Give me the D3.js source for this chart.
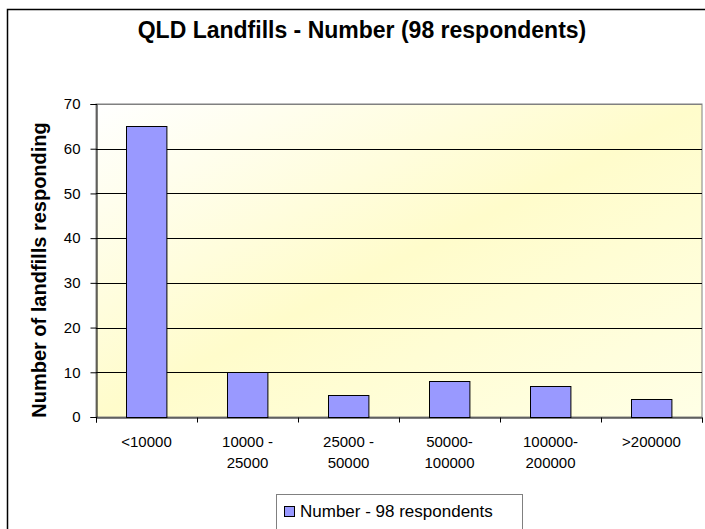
<!DOCTYPE html>
<html>
<head>
  <title>QLD Landfills - Number</title>
  <script src="https://cdn.jsdelivr.net/npm/d3@7"></script>
  <style>
    body { margin: 0; background: #fff; }
    text { font-family: Arial, "Liberation Sans", sans-serif; }
  </style>
</head>
<body>
  <div id="chart"></div>
  <script>
    const categories = [["<10000"], ["10000 -", "25000"], ["25000 -", "50000"], ["50000-", "100000"], ["100000-", "200000"], [">200000"]]
    const values = [65, 10, 5, 8, 7, 4]
    const yTicks = [0, 10, 20, 30, 40, 50, 60, 70]
    const seriesName = "Number - 98 respondents"

    const width = 705
    const height = 529
    const plot = { left: 96, right: 702, top: 104, bottom: 417 }

    const svg = d3.select("#chart")
      .append("svg")
      .attr("width", width)
      .attr("height", height)

    const defs = svg.append("defs")
    const grad = defs.append("linearGradient")
      .attr("id", "bg")
      .attr("x1", 0).attr("y1", 0)
      .attr("x2", 1).attr("y2", 1)
    grad.append("stop").attr("offset", 0).attr("stop-color", "#ffffff")
    grad.append("stop").attr("offset", 0.5).attr("stop-color", "#fffccb")
    grad.append("stop").attr("offset", 1).attr("stop-color", "#ffffe6")

    // outer chart frame (cropped on the right and bottom)
    svg.append("rect")
      .attr("x", 7.5).attr("y", 9.5)
      .attr("width", 720).attr("height", 540)
      .attr("fill", "#fff")
      .attr("stroke", "#000")
      .attr("stroke-width", 1.5)

    svg.append("text")
      .attr("x", 362)
      .attr("y", 38)
      .attr("text-anchor", "middle")
      .style("font-size", "23px")
      .style("font-weight", "bold")
      .text("QLD Landfills - Number (98 respondents)")

    const x = d3.scaleBand()
      .domain(d3.range(categories.length))
      .range([plot.left, plot.right])
      .paddingInner(0.6)
      .paddingOuter(0.3)

    const xEdge = d3.scaleLinear()
      .domain([0, categories.length])
      .range([plot.left, plot.right])

    const y = d3.scaleLinear()
      .domain([0, 70])
      .range([plot.bottom, plot.top])

    svg.append("rect")
      .attr("x", plot.left).attr("y", plot.top)
      .attr("width", plot.right - plot.left)
      .attr("height", plot.bottom - plot.top)
      .attr("fill", "url(#bg)")
      .attr("stroke", "#808080")
      .attr("stroke-width", 1)

    svg.append("g")
      .selectAll("line")
      .data(yTicks.slice(1))
      .enter()
      .append("line")
      .attr("x1", plot.left).attr("x2", plot.right)
      .attr("y1", d => Math.round(y(d)) + 0.5)
      .attr("y2", d => Math.round(y(d)) + 0.5)
      .attr("stroke", d => d === 70 ? "#808080" : "#000")
      .attr("stroke-width", 1)

    svg.append("g")
      .selectAll("rect")
      .data(values)
      .enter()
      .append("rect")
      .attr("x", (d, i) => Math.round(x(i)) + 0.5)
      .attr("y", d => Math.round(y(d)) + 0.5)
      .attr("width", x.bandwidth())
      .attr("height", d => Math.round(y(0)) - Math.round(y(d)))
      .attr("fill", "#9999ff")
      .attr("stroke", "#000")
      .attr("stroke-width", 1)

    const yAxis = svg.append("g")
      .attr("transform", `translate(${plot.left + 0.5},0)`)
      .call(d3.axisLeft(y).tickValues(yTicks).tickSize(6).tickPadding(10))
    yAxis.select(".domain").attr("stroke", "#000")
    yAxis.selectAll("text").style("font-size", "15px").attr("fill", "#000")
      .attr("font-family", null)

    const xAxis = svg.append("g")
      .attr("transform", `translate(0,${Math.round(plot.bottom) + 0.5})`)
      .call(d3.axisBottom(xEdge).tickValues(d3.range(categories.length + 1)).tickSize(5).tickFormat(""))
    xAxis.select(".domain").attr("stroke", "#000")

    svg.append("g")
      .selectAll("text")
      .data(categories)
      .enter()
      .append("text")
      .attr("x", (d, i) => x(i) + x.bandwidth() / 2)
      .attr("y", 447)
      .attr("text-anchor", "middle")
      .style("font-size", "15px")
      .each(function (d) {
        d3.select(this).selectAll("tspan")
          .data(d)
          .enter()
          .append("tspan")
          .attr("x", d3.select(this).attr("x"))
          .attr("dy", (t, j) => j === 0 ? 0 : 21)
          .text(t => t)
      })

    svg.append("text")
      .attr("transform", "translate(46,270) rotate(-90)")
      .attr("text-anchor", "middle")
      .style("font-size", "20px")
      .style("font-weight", "bold")
      .text("Number of landfills responding")

    const legend = svg.append("g")
    legend.append("rect")
      .attr("x", 276.5).attr("y", 494.5)
      .attr("width", 246).attr("height", 40)
      .attr("fill", "#fff")
      .attr("stroke", "#808080")
    legend.append("rect")
      .attr("x", 284.5).attr("y", 506.5)
      .attr("width", 10).attr("height", 10)
      .attr("fill", "#9999ff")
      .attr("stroke", "#000")
    legend.append("text")
      .attr("x", 300)
      .attr("y", 517)
      .style("font-size", "17px")
      .text(seriesName)
  </script>
</body>
</html>
